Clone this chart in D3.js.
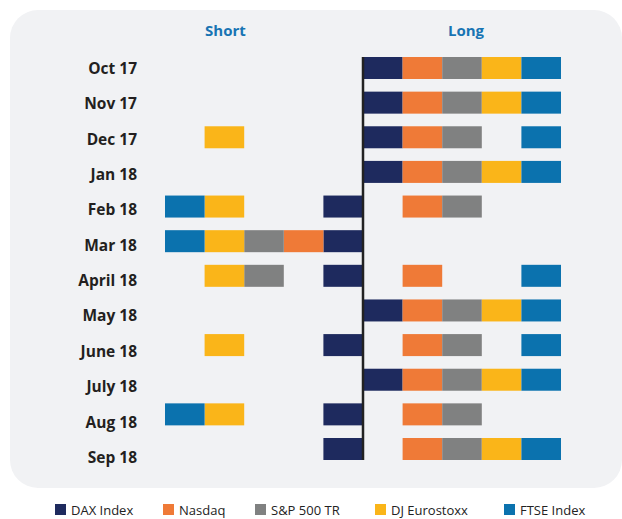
<!DOCTYPE html>
<html>
<head>
<meta charset="utf-8">
<script src="https://cdn.jsdelivr.net/npm/d3@7"></script>
<style>
  html, body { margin: 0; padding: 0; background: #ffffff; }
  svg { display: block; }
</style>
</head>
<body>
<svg id="chart" width="622" height="519"></svg>
<script>
// ---- Data ----
const months = ["Oct 17", "Nov 17", "Dec 17", "Jan 18", "Feb 18", "Mar 18",
                "April 18", "May 18", "June 18", "July 18", "Aug 18", "Sep 18"];
const indices = ["DAX Index", "Nasdaq", "S&P 500 TR", "DJ Eurostoxx", "FTSE Index"];
const colors = ["#1e2a5e", "#ef7a37", "#808181", "#fab519", "#0b72ae"];
// position per month: 1 = long, -1 = short, 0 = none
const daxPos      = [1, 1, 1, 1, -1, -1, -1, 1, -1, 1, -1, -1];
const nasdaqPos   = [1, 1, 1, 1,  1, -1,  1, 1,  1, 1,  1,  1];
const spPos       = [1, 1, 1, 1,  1, -1, -1, 1,  1, 1,  1,  1];
const djPos       = [1, 1, -1, 1, -1, -1, -1, 1, -1, 1, -1,  1];
const ftsePos     = [1, 1, 1, 1, -1, -1,  1, 1,  1, 1, -1,  1];
const sideLabels = ["Short", "Long"];

const positions = [daxPos, nasdaqPos, spPos, djPos, ftsePos];

// ---- Setup ----
const svg = d3.select("#chart");
const font = "'Open Sans', 'Noto Sans', sans-serif";

// background panel
svg.append("rect")
  .attr("x", 10).attr("y", 10)
  .attr("width", 612).attr("height", 478)
  .attr("rx", 28).attr("ry", 28)
  .attr("fill", "#f1f2f4");

// scales
const x = d3.scaleLinear().domain([-5, 5]).range([165, 561]);
const yBar = d3.scalePoint().domain(months).range([68, 449]);
const yLabel = d3.scalePoint().domain(months).range([68.5, 457.5]);
const barH = 22;

// bars
const cells = [];
positions.forEach((arr, i) => {
  arr.forEach((p, m) => {
    if (p !== 0) cells.push({ month: months[m], idx: i, pos: p });
  });
});

svg.append("g").selectAll("rect")
  .data(cells)
  .join("rect")
  .attr("x", d => d.pos > 0 ? x(d.idx) : x(-(d.idx + 1)))
  .attr("width", x(1) - x(0))
  .attr("y", d => yBar(d.month) - barH / 2)
  .attr("height", barH)
  .attr("fill", d => colors[d.idx]);

// zero line
svg.append("line")
  .attr("x1", x(0)).attr("x2", x(0))
  .attr("y1", yBar(months[0]) - barH / 2)
  .attr("y2", yBar(months[months.length - 1]) + barH / 2)
  .attr("stroke", "#222")
  .attr("stroke-width", 2.5);

// row labels
svg.append("g").selectAll("text")
  .data(months)
  .join("text")
  .attr("x", 137)
  .attr("y", d => yLabel(d))
  .attr("dy", "0.35em")
  .attr("text-anchor", "end")
  .attr("font-family", font)
  .attr("font-weight", "bold")
  .attr("font-size", 15.5)
  .attr("fill", "#231f20")
  .text(d => d);

// side headers
svg.append("g").selectAll("text")
  .data(sideLabels)
  .join("text")
  .attr("x", (d, i) => i === 0 ? x(-3.5) + 1 : x(2.6))
  .attr("y", 36)
  .attr("text-anchor", "middle")
  .attr("font-family", font)
  .attr("font-weight", "bold")
  .attr("font-size", 15)
  .attr("fill", "#1874b3")
  .text(d => d);

// legend
const legendX = [55, 163, 255, 375, 504];
const lg = svg.append("g").selectAll("g")
  .data(indices)
  .join("g")
  .attr("transform", (d, i) => `translate(${legendX[i]},504)`);
lg.append("rect")
  .attr("width", 11).attr("height", 11)
  .attr("fill", (d, i) => colors[i]);
lg.append("text")
  .attr("x", 16).attr("y", 10.5)
  .attr("font-family", font)
  .attr("font-size", 13)
  .attr("fill", "#222")
  .text(d => d);
</script>
</body>
</html>
